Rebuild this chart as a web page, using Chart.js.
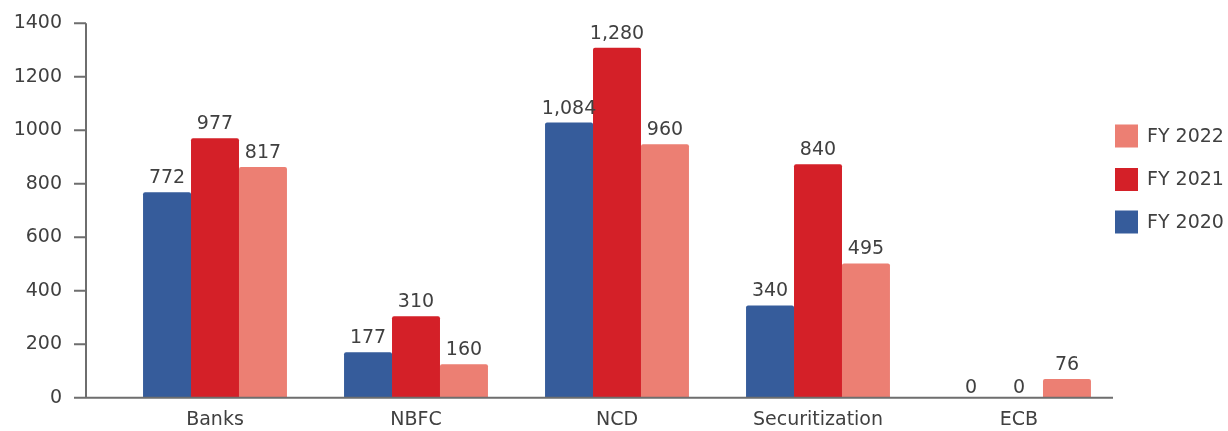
<!DOCTYPE html>
<html>
<head>
<meta charset="utf-8">
<script src="https://cdn.jsdelivr.net/npm/chart.js@4/dist/chart.umd.min.js"></script>
<style>
html,body{margin:0;padding:0;background:#fff;}
#wrap{width:1228px;height:431px;position:relative;}
</style>
</head>
<body>
<div id="wrap"><canvas id="c"></canvas></div>
<script>
// ---- data ----
const categories = ['Banks', 'NBFC', 'NCD', 'Securitization', 'ECB'];
const seriesNames = ['FY 2020', 'FY 2021', 'FY 2022'];
// bar heights as drawn in the picture
const fy2020 = [768, 170, 1029, 345, 0];
const fy2021 = [970, 305, 1309, 873, 0];
const fy2022 = [863, 125, 948, 502, 70];
// value labels as printed in the picture
const fy2020Labels = ['772', '177', '1,084', '340', '0'];
const fy2021Labels = ['977', '310', '1,280', '840', '0'];
const fy2022Labels = ['817', '160', '960', '495', '76'];
const yTicks = [0, 200, 400, 600, 800, 1000, 1200, 1400];

// ---- styles ----
const colors = ['#365C9B', '#D42028', '#EC7F73'];
const textColor = '#404040';
const axisColor = '#6E6E6E';
const FONT = 'DejaVu Sans';

Chart.defaults.font.family = FONT;
Chart.defaults.font.size = 19;
Chart.defaults.color = textColor;

const valueLabels = [fy2020Labels, fy2021Labels, fy2022Labels];

const overlay = {
  id: 'overlay',
  afterDatasetsDraw(chart) {
    const ctx = chart.ctx;
    ctx.save();
    ctx.font = '19px "' + FONT + '"';
    ctx.fillStyle = textColor;
    ctx.textAlign = 'center';
    ctx.textBaseline = 'alphabetic';
    chart.data.datasets.forEach((ds, di) => {
      const meta = chart.getDatasetMeta(di);
      meta.data.forEach((el, i) => {
        const off = ds.data[i] === 0 ? 5 : 9;
        ctx.fillText(valueLabels[di][i], el.x, el.y - off);
      });
    });
    ctx.restore();
  },
  afterDraw(chart) {
    const ctx = chart.ctx;
    const y = chart.scales.y;
    const axisX = 86, axisRight = 1113;
    ctx.save();
    ctx.strokeStyle = axisColor;
    ctx.lineWidth = 2;
    ctx.beginPath();
    ctx.moveTo(axisX, y.getPixelForValue(yTicks[yTicks.length - 1]));
    ctx.lineTo(axisX, y.getPixelForValue(0));
    ctx.lineTo(axisRight, y.getPixelForValue(0));
    yTicks.forEach(t => {
      const py = y.getPixelForValue(t);
      ctx.moveTo(axisX - 12, py);
      ctx.lineTo(axisX, py);
    });
    ctx.stroke();
    // legend (reversed order)
    ctx.font = '19px "' + FONT + '"';
    ctx.textAlign = 'left';
    ctx.textBaseline = 'middle';
    const centers = [136, 179.5, 222];
    for (let k = 0; k < 3; k++) {
      const di = 2 - k;
      const cy = centers[k];
      ctx.fillStyle = colors[di];
      ctx.fillRect(1115, cy - 11.5, 23, 23);
      ctx.fillStyle = textColor;
      ctx.fillText(seriesNames[di], 1147, cy + 1);
    }
    ctx.restore();
  }
};

new Chart(document.getElementById('c'), {
  type: 'bar',
  data: {
    labels: categories,
    datasets: [
      { label: seriesNames[0], data: fy2020, backgroundColor: colors[0] },
      { label: seriesNames[1], data: fy2021, backgroundColor: colors[1] },
      { label: seriesNames[2], data: fy2022, backgroundColor: colors[2] }
    ]
  },
  options: {
    responsive: true,
    maintainAspectRatio: false,
    animation: false,
    layout: { padding: { top: 23.3, right: 108.5, left: 0, bottom: 0 } },
    datasets: { bar: { categoryPercentage: 0.716, barPercentage: 1.0, borderRadius: 2, borderSkipped: 'bottom' } },
    plugins: { legend: { display: false }, tooltip: { enabled: false } },
    scales: {
      x: {
        grid: { display: false, drawTicks: false },
        border: { display: false },
        ticks: { padding: 11, color: textColor, font: { size: 19 } },
        afterFit(s) { s.height = 33.3; s.paddingLeft = 0; s.paddingRight = 0; }
      },
      y: {
        min: 0, max: 1400,
        afterBuildTicks(s) { s.ticks = yTicks.map(v => ({ value: v })); },
        grid: { display: false, drawTicks: false },
        border: { display: false },
        ticks: { padding: 52.5, color: textColor, font: { size: 19 }, callback: v => String(v) },
        afterFit(s) { s.width = 114.5; s.paddingTop = 0; s.paddingBottom = 0; }
      }
    }
  },
  plugins: [overlay]
});
</script>
</body>
</html>
